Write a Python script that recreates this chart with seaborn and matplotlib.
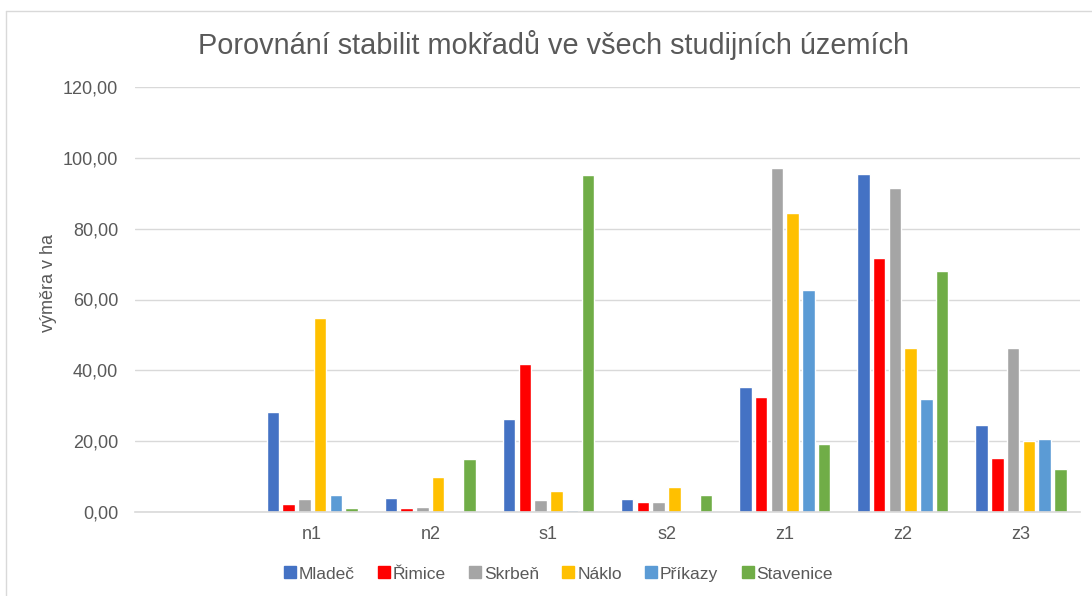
import numpy as np
import pandas as pd
import matplotlib
matplotlib.use("Agg")
import matplotlib.pyplot as plt
import seaborn as sns
from matplotlib.ticker import FuncFormatter
from matplotlib.lines import Line2D

# categories (first slot is empty in the original chart)
categories = [" ", "n1", "n2", "s1", "s2", "z1", "z2", "z3"]
areas = ["Mladeč", "Řimice", "Skrbeň", "Náklo", "Příkazy", "Stavenice"]
colors = ["#4472C4", "#FF0000", "#A5A5A5", "#FFC000", "#5B9BD5", "#70AD47"]

mladec    = [28.2, 3.9, 26.3, 3.6, 35.4, 95.5, 24.7]
rimice    = [2.4, 1.1, 41.8, 2.8, 32.6, 71.7, 15.3]
skrben    = [3.8, 1.5, 3.4, 2.8, 97.1, 91.6, 46.4]
naklo     = [54.8, 9.8, 5.9, 7.2, 84.4, 46.3, 20.0]
prikazy   = [4.7, 0.0, 0.7, 0.2, 62.7, 31.8, 20.5]
stavenice = [1.0, 14.9, 95.1, 4.7, 19.3, 68.0, 12.1]

series = [mladec, rimice, skrben, naklo, prikazy, stavenice]
rows = []
for name, vals in zip(areas, series):
    for cat, v in zip(categories[1:], vals):
        rows.append({"kategorie": cat, "oblast": name, "ha": v})
df = pd.DataFrame(rows)

sns.set_style("white")
plt.rcParams["font.family"] = ["Liberation Sans", "DejaVu Sans"]
text_col = "#595959"
grid_col = "#D9D9D9"

fig = plt.figure(figsize=(10.92, 5.96), dpi=100)
ax = fig.add_axes([135/1092, 84/596, 945/1092, 425/596])

sns.barplot(data=df, x="kategorie", y="ha", hue="oblast", order=categories,
            hue_order=areas, palette=colors, width=0.8, gap=0.2,
            saturation=1, ax=ax, legend=False)

ax.set_ylim(0, 120)
ax.set_yticks(np.arange(0, 121, 20))
ax.yaxis.set_major_formatter(FuncFormatter(lambda v, p: f"{v:.2f}".replace(".", ",")))
ax.grid(axis="y", color=grid_col, linewidth=1)
ax.set_axisbelow(True)
for s in ["top", "right", "left"]:
    ax.spines[s].set_visible(False)
ax.spines["bottom"].set_color(grid_col)
ax.spines["bottom"].set_linewidth(1.2)
ax.tick_params(axis="both", length=0, labelsize=13, labelcolor=text_col)
ax.tick_params(axis="y", pad=12)
ax.tick_params(axis="x", pad=10)
ax.set_xlabel("")
ax.set_ylabel("výměra v ha", fontsize=13, color=text_col)
ax.yaxis.set_label_coords(-0.083, 0.54)

fig.suptitle("Porovnání stabilit mokřadů ve všech studijních územích",
             x=0.507, y=0.925, fontsize=20.8, color=text_col, va="center")

handles = [Line2D([], [], marker="s", linestyle="", color=c, markersize=8) for c in colors]
fig.legend(handles, areas, loc="center", bbox_to_anchor=(0.51, 0.037), ncol=6,
           frameon=False, fontsize=12.5, labelcolor=text_col,
           handletextpad=0.0, columnspacing=1.2, handlelength=1.0)

# thin chart-area border (left and top visible)
fig.add_artist(Line2D([6/1092, 6/1092], [0, 1 - 11/596], color=grid_col, lw=1))
fig.add_artist(Line2D([6/1092, 1], [1 - 11/596, 1 - 11/596], color=grid_col, lw=1))

fig.savefig("out.png", dpi=100)
